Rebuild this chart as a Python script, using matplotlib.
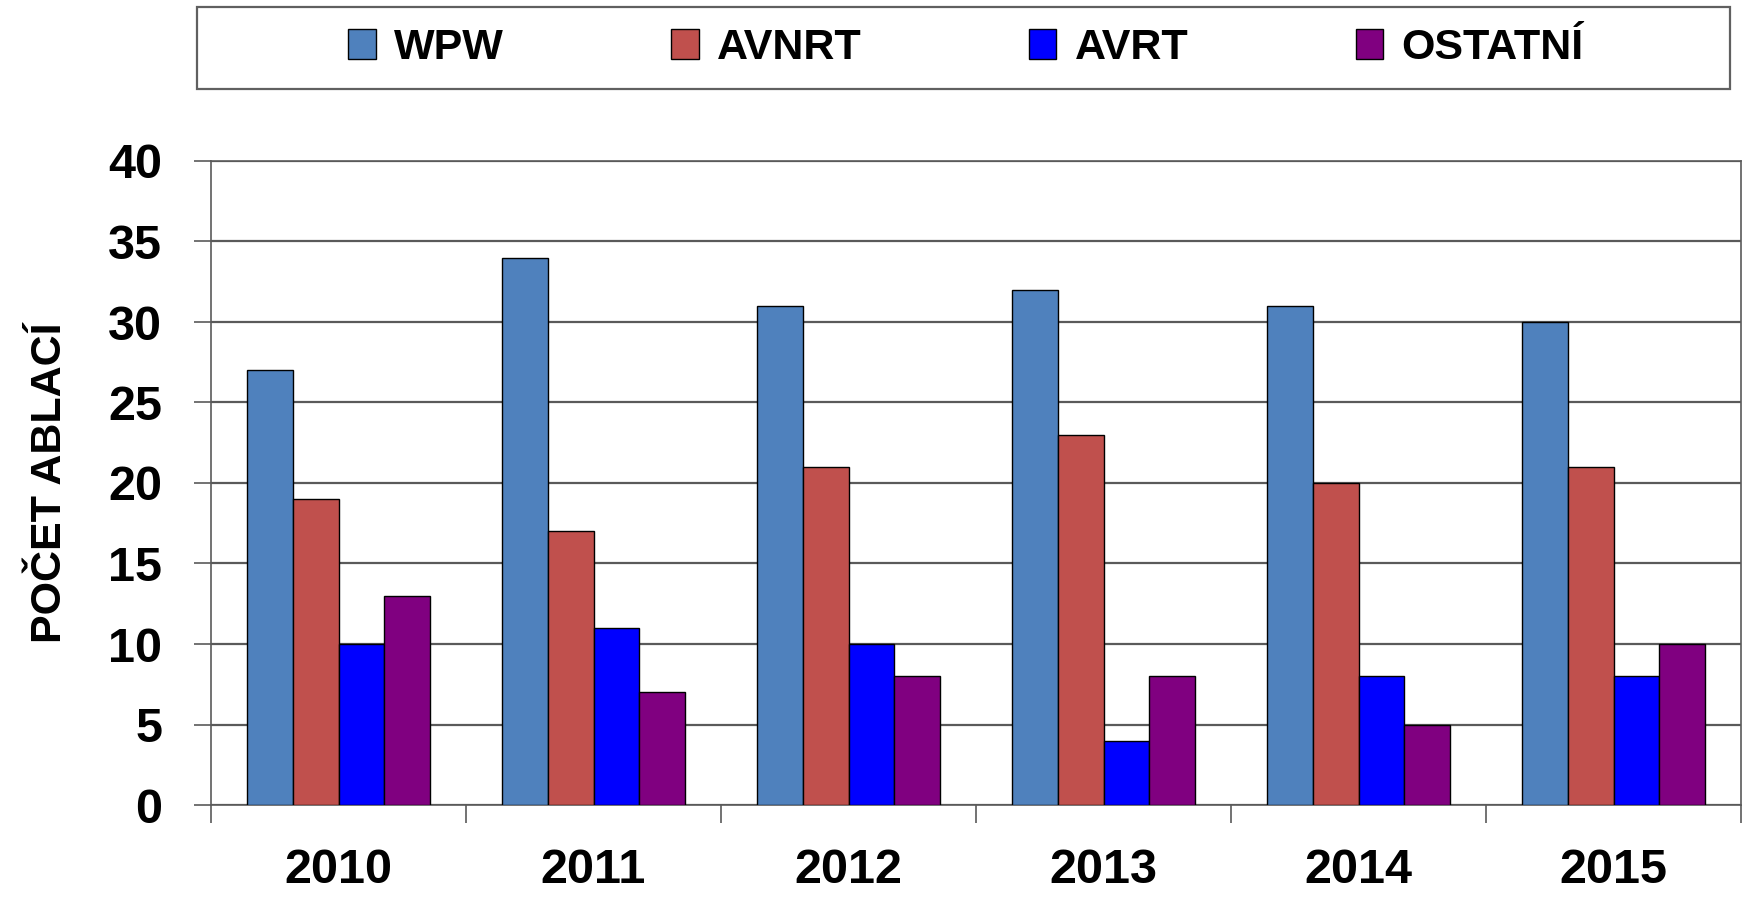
import numpy as np
import matplotlib
matplotlib.use("Agg")
import matplotlib.pyplot as plt
from matplotlib.patches import Rectangle

years = ["2010", "2011", "2012", "2013", "2014", "2015"]
series = ["WPW", "AVNRT", "AVRT", "OSTATNÍ"]
wpw = [27, 34, 31, 32, 31, 30]
avnrt = [19, 17, 21, 23, 20, 21]
avrt = [10, 11, 10, 4, 8, 8]
ostatni = [13, 7, 8, 8, 5, 10]
colors = ["#4F81BD", "#C0504D", "#0000FF", "#800080"]

plt.rcParams['font.family'] = ['Liberation Sans', 'DejaVu Sans']
plt.rcParams['font.weight'] = 'bold'

fig = plt.figure(figsize=(17.44, 8.97), dpi=100)
ax = fig.add_axes([211 / 1744, 1 - 805 / 897, 1530 / 1744, 644 / 897])

grid_col = "#5a5a5a"
x = np.arange(len(years))
w = 0.18
for i, vals in enumerate([wpw, avnrt, avrt, ostatni]):
    ax.bar(x + (i - 1.5) * w, vals, w, color=colors[i], edgecolor="black",
           linewidth=1.0, label=series[i], zorder=3)

ax.set_xlim(-0.5, 5.5)
ax.set_ylim(0, 40)
ax.set_yticks(range(0, 41, 5))
ax.yaxis.grid(True, color=grid_col, linewidth=1.6, zorder=0)
ax.tick_params(axis='y', length=12, width=1.2, color=grid_col, pad=23, labelsize=35)

ax.set_xticks(x)
ax.set_xticklabels(years)
ax.set_xticks(np.arange(-0.5, 6.0, 1.0), minor=True)
ax.tick_params(axis='x', which='major', length=0, pad=31, labelsize=35)
ax.tick_params(axis='x', which='minor', length=13, width=1.2, color=grid_col)

for s in ax.spines.values():
    s.set_color(grid_col)
    s.set_linewidth(1.2)

ax.set_ylabel("POČET ABLACÍ", fontsize=31, fontweight='bold')
ax.yaxis.set_label_coords(-0.092, 0.5)

# legend box
fig.patches.append(Rectangle((197 / 1744, 1 - 89 / 897), 1533 / 1744, 82 / 897,
                             transform=fig.transFigure, fill=False,
                             edgecolor="#606060", linewidth=1.6))
fig.legend(loc='center', bbox_to_anchor=(966 / 1744, 1 - 48 / 897), ncol=4,
           frameon=False, handlelength=0.63, handleheight=0.7,
           handletextpad=0.42, columnspacing=3.9,
           prop={'weight': 'bold', 'size': 31})

fig.savefig("out.png", dpi=100)
